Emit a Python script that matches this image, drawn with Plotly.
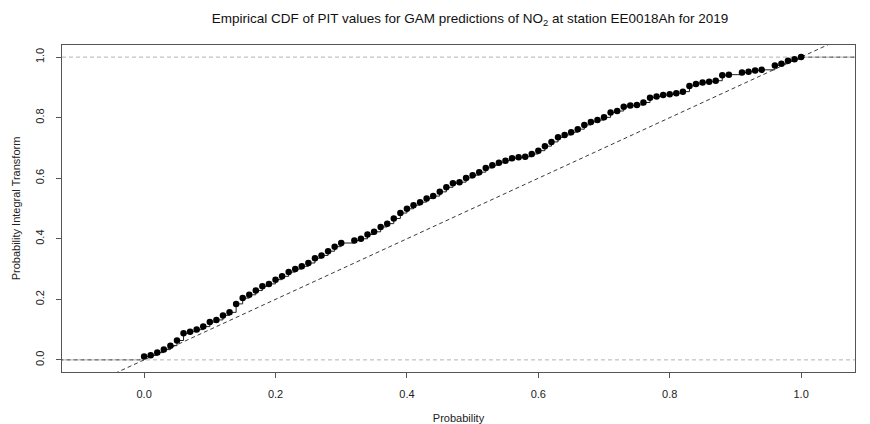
import plotly.graph_objects as go

# Jump locations of the empirical CDF (PIT values, rounded to 0.01)
pit_x = [
    0.00, 0.01, 0.02, 0.03, 0.04, 0.05, 0.06, 0.07, 0.08, 0.09,
    0.10, 0.11, 0.12, 0.13, 0.14, 0.15, 0.16, 0.17, 0.18, 0.19,
    0.20, 0.21, 0.22, 0.23, 0.24, 0.25, 0.26, 0.27, 0.28, 0.29,
    0.30, 0.32, 0.33, 0.34, 0.35, 0.36, 0.37, 0.38, 0.39,
    0.40, 0.41, 0.42, 0.43, 0.44, 0.45, 0.46, 0.47, 0.48, 0.49,
    0.50, 0.51, 0.52, 0.53, 0.54, 0.55, 0.56, 0.57, 0.58, 0.59,
    0.60, 0.61, 0.62, 0.63, 0.64, 0.65, 0.66, 0.67, 0.68, 0.69,
    0.70, 0.71, 0.72, 0.73, 0.74, 0.75, 0.76, 0.77, 0.78, 0.79,
    0.80, 0.81, 0.82, 0.83, 0.84, 0.85, 0.86, 0.87, 0.88, 0.89,
    0.91, 0.92, 0.93, 0.94, 0.96, 0.97, 0.98, 0.99, 1.00,
]

# ECDF value at each jump
ecdf_y = [
    0.011, 0.015, 0.024, 0.034, 0.047, 0.064, 0.088, 0.093, 0.100, 0.110,
    0.125, 0.132, 0.147, 0.157, 0.185, 0.204, 0.215, 0.229, 0.243, 0.251,
    0.265, 0.276, 0.290, 0.300, 0.309, 0.320, 0.336, 0.345, 0.359, 0.374,
    0.386, 0.394, 0.400, 0.414, 0.423, 0.439, 0.450, 0.467, 0.485,
    0.499, 0.511, 0.521, 0.533, 0.541, 0.555, 0.570, 0.583, 0.587, 0.601,
    0.610, 0.620, 0.634, 0.643, 0.651, 0.658, 0.666, 0.669, 0.671, 0.680,
    0.691, 0.706, 0.720, 0.735, 0.743, 0.752, 0.762, 0.776, 0.786, 0.792,
    0.801, 0.817, 0.822, 0.836, 0.840, 0.842, 0.850, 0.866, 0.870, 0.875,
    0.877, 0.881, 0.886, 0.905, 0.911, 0.916, 0.919, 0.922, 0.940, 0.942,
    0.949, 0.952, 0.956, 0.958, 0.972, 0.978, 0.988, 0.993, 1.000,
]

x_ticks = [0.0, 0.2, 0.4, 0.6, 0.8, 1.0]
y_ticks = [0.0, 0.2, 0.4, 0.6, 0.8, 1.0]
x_limits = [-0.125, 1.082]
y_limits = [-0.04, 1.04]

FONT = "Liberation Sans, Arial, Helvetica, sans-serif"
DASH = "4px,3px"

fig = go.Figure()

# reference levels 0 and 1
for level in (0, 1):
    fig.add_hline(y=level, line=dict(color="#b3b3b3", width=1, dash=DASH), layer="below")

# identity line
fig.add_trace(go.Scatter(
    x=[x_limits[0] - 0.2, x_limits[1] + 0.2],
    y=[x_limits[0] - 0.2, x_limits[1] + 0.2],
    mode="lines", line=dict(color="#3a3a3a", width=1, dash=DASH),
    hoverinfo="skip", showlegend=False,
))

# tails of the step function outside the data range
fig.add_trace(go.Scatter(
    x=[x_limits[0] - 0.1, pit_x[0]], y=[0, 0],
    mode="lines", line=dict(color="#3a3a3a", width=1, dash=DASH),
    hoverinfo="skip", showlegend=False,
))
fig.add_trace(go.Scatter(
    x=[pit_x[-1], x_limits[1] + 0.1], y=[ecdf_y[-1], ecdf_y[-1]],
    mode="lines", line=dict(color="#3a3a3a", width=1, dash=DASH),
    hoverinfo="skip", showlegend=False,
))

# horizontal steps and jump points
fig.add_trace(go.Scatter(
    x=pit_x, y=ecdf_y, mode="lines+markers",
    line=dict(color="#222222", width=1, shape="hv"),
    marker=dict(color="black", size=6.5),
    showlegend=False,
))

axis_common = dict(
    showgrid=False, zeroline=False, automargin=False,
    showline=True, linecolor="#555555", linewidth=1, mirror=True,
    ticks="outside", ticklen=5, tickwidth=1, tickcolor="#555555",
    tickfont=dict(family=FONT, size=11, color="#222222"),
)

fig.update_layout(
    width=870, height=424,
    margin=dict(l=62, r=15, t=45, b=52),
    paper_bgcolor="white", plot_bgcolor="white",
    font=dict(family=FONT, color="#222222"),
    title=dict(
        text="Empirical CDF of PIT values for GAM predictions of NO<sub>2</sub> at station EE0018Ah for 2019",
        x=470 / 870, xref="container", xanchor="center",
        y=1 - 18 / 424, yref="container", yanchor="middle",
        font=dict(family=FONT, size=13.5, color="#111111"),
    ),
    xaxis=dict(
        range=x_limits, tickvals=x_ticks,
        ticktext=[f"{v:.1f}" for v in x_ticks],
        ticklabelstandoff=7,
        title=dict(text="Probability", font=dict(family=FONT, size=11), standoff=22),
        **axis_common,
    ),
    yaxis=dict(
        range=y_limits, tickvals=y_ticks,
        ticktext=[f"{v:.1f}" for v in y_ticks],
        tickangle=-90, ticklabelstandoff=8,
        title=dict(text="Probability Integral Transform", font=dict(family=FONT, size=11), standoff=10),
        **axis_common,
    ),
)

fig.write_html("out.html")
